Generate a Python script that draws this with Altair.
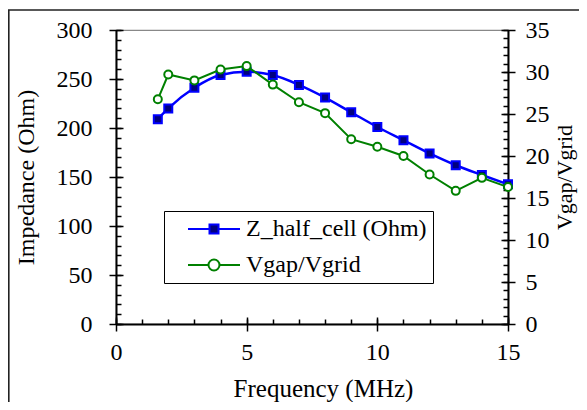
import altair as alt
import pandas as pd

# ---------------- data ----------------
freq = [1.6, 2, 3, 4, 5, 6, 7, 8, 9, 10, 11, 12, 13, 14, 15]
z_half_cell = [209, 220, 241, 254, 257.5, 254, 244, 231, 216, 201, 187.5, 174, 162, 152, 142.5]
vgap_vgrid = [26.75, 29.7, 29.0, 30.3, 30.7, 28.5, 26.4, 25.1, 22.0, 21.1, 20.0, 17.8, 15.85, 17.4, 16.3]
series_names = ["Z_half_cell (Ohm)", "Vgap/Vgrid"]

x_major = [0, 5, 10, 15]
x_minor = list(range(0, 16))
left_major = [0, 50, 100, 150, 200, 250, 300]
left_minor = list(range(0, 301, 10))
right_major = [0, 5, 10, 15, 20, 25, 30, 35]
right_minor = list(range(0, 36))

df = pd.DataFrame({"freq": freq, "z": z_half_cell, "v": vgap_vgrid})
frame_df = pd.DataFrame({"k": [0]})

FONT = "Liberation Serif, Times New Roman, serif"
BLUE = "#0000FF"
NAVY = "#000080"
GREEN = "#008000"

xscale = alt.Scale(domain=[0, 15], nice=False, zero=False)
lscale = alt.Scale(domain=[0, 300], nice=False)
rscale = alt.Scale(domain=[0, 35], nice=False)


def tick_axis(orient, values, size, offset):
    return alt.Axis(orient=orient, values=values, tickSize=size, offset=offset,
                    labels=False, domain=False, title=None, grid=False, ticks=True,
                    tickColor="black", tickWidth=1.5)


x_main = alt.Axis(orient="bottom", values=x_major, ticks=False, domain=True,
                  domainColor="black", domainWidth=2, grid=False,
                  labelFont=FONT, labelFontSize=24, labelColor="black",
                  labelPadding=16, labelFlush=False, labelOverlap=False,
                  title="Frequency (MHz)", titleFont=FONT, titleFontSize=25,
                  titleFontWeight="normal", titleColor="black", titlePadding=12,
                  titleX=207)
left_main = alt.Axis(orient="left", values=left_major, ticks=False, domain=True,
                     domainColor="black", domainWidth=2, grid=False,
                     labelFont=FONT, labelFontSize=24, labelColor="black",
                     labelPadding=24, labelFlush=False, labelOverlap=False,
                     title="Impedance (Ohm)", titleFont=FONT, titleFontSize=24,
                     titleFontWeight="normal", titleColor="black", titlePadding=18)
right_main = alt.Axis(orient="right", values=right_major, ticks=False, domain=True,
                      domainColor="black", domainWidth=2, grid=False,
                      labelFont=FONT, labelFontSize=24, labelColor="black",
                      labelPadding=17, labelFlush=False, labelOverlap=False,
                      title="Vgap/Vgrid", titleFont=FONT, titleFontSize=22,
                      titleFontWeight="normal", titleColor="black", titlePadding=5,
                      titleAngle=270, titleBaseline="top")

base = alt.Chart(df)

# ---- left (impedance) group ----
blue_line = base.mark_line(color=BLUE, strokeWidth=2.5, interpolate="monotone").encode(
    x=alt.X("freq:Q", scale=xscale, axis=x_main),
    y=alt.Y("z:Q", scale=lscale, axis=left_main),
)
blue_pts = base.mark_square(size=64, fill=NAVY, stroke=BLUE, strokeWidth=2, opacity=1).encode(
    x=alt.X("freq:Q", scale=xscale, axis=tick_axis("bottom", x_major, 14, -7)),
    y=alt.Y("z:Q", scale=lscale, axis=tick_axis("left", left_major, 14, -7)),
)

# legend symbols: line with marker (unit = sqrt(size)/2 = 10 px)
sq_path = "M-2.6,0H-0.45M0.45,0H2.6M-0.45,-0.45H0.45V0.45H-0.45Z"
ci_path = "M-2.6,0H-0.55M0.55,0H2.6M0.55,0A0.55,0.55,0,1,1,-0.55,0A0.55,0.55,0,1,1,0.55,0Z"

legend_layer = base.transform_filter("false").transform_calculate(
    series="'x'"
).mark_point(size=400, strokeWidth=2, opacity=1).encode(
    x=alt.X("freq:Q", scale=xscale, axis=tick_axis("bottom", x_minor, 5, -5)),
    y=alt.Y("z:Q", scale=lscale, axis=tick_axis("left", left_minor, 5, -5)),
    shape=alt.Shape("series:N", scale=alt.Scale(domain=series_names, range=[sq_path, ci_path]), title=None),
    stroke=alt.Stroke("series:N", scale=alt.Scale(domain=series_names, range=[BLUE, GREEN]), title=None),
    fill=alt.Fill("series:N", scale=alt.Scale(domain=series_names, range=[NAVY, "white"]), title=None),
)

left = alt.layer(blue_line, legend_layer, blue_pts).resolve_axis(x="independent", y="independent")

# ---- right (Vgap/Vgrid) group ----
green_line = base.mark_line(color=GREEN, strokeWidth=2).encode(
    x=alt.X("freq:Q", scale=xscale, axis=None),
    y=alt.Y("v:Q", scale=rscale, axis=right_main),
)
green_minor = base.transform_filter("false").mark_point(opacity=0).encode(
    x=alt.X("freq:Q", scale=xscale, axis=None),
    y=alt.Y("v:Q", scale=rscale, axis=tick_axis("right", right_minor, 5, -5)),
)
green_pts = base.mark_circle(size=64, fill="white", stroke=GREEN, strokeWidth=2, opacity=1).encode(
    x=alt.X("freq:Q", scale=xscale, axis=None),
    y=alt.Y("v:Q", scale=rscale, axis=tick_axis("right", right_major, 14, -7)),
)
right = alt.layer(green_line, green_minor, green_pts).resolve_axis(y="independent")

frame = alt.Chart(frame_df).mark_rect(fill="transparent", stroke="#222222", strokeWidth=1.6).encode(
    x=alt.value(-107.2), x2=alt.value(700), y=alt.value(-20), y2=alt.value(700)
)

chart = alt.layer(frame, left, right).resolve_scale(y="independent").properties(
    width=392, height=294,
    autosize=alt.AutoSizeParams(type="none"),
    padding={"left": 108, "top": 22, "right": 71, "bottom": 78},
).configure_view(stroke="#888888", strokeWidth=1.2).configure_legend(
    orient="none", legendX=48, legendY=181, strokeColor="black", fillColor="white",
    padding=6, rowPadding=12, labelFont=FONT, labelFontSize=24, labelColor="black",
    labelOffset=20, symbolStrokeWidth=2, symbolSize=400, symbolOffset=32, labelLimit=400,
)

chart.save("out.html", embed_options={"renderer": "svg", "actions": False})
